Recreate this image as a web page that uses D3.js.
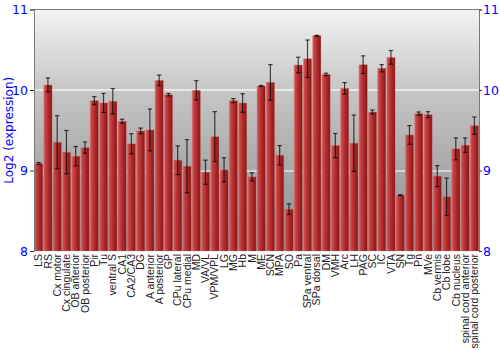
<!DOCTYPE html>
<html><head><meta charset="utf-8">
<script src="https://cdn.jsdelivr.net/npm/d3@7"></script>
<style>body{margin:0;background:#fff}svg{display:block}</style>
</head><body>
<script>
const categories = ["LS","RS","Cx motor","Cx cingulate","OB anterior","OB posterior","Pir","Tu","ventral S","CA1","CA2/CA3","DG","A anterior","A posterior","GP","CPu lateral","CPu medial","MD","VA/VL","VPM/VPL","LG","MG","Hb","M","ME","SCN","MPA","SO","Pa","SPa ventral","SPa dorsal","DM","VMH","Arc","LH","PAG","SC","IC","VTA","SN","Tg","Pn","MVe","Cb vermis","Cb lobe","Cb nucleus","spinal cord anterior","spinal cord posterior"];
const values = [9.087,10.062,9.351,9.227,9.178,9.285,9.868,9.839,9.860,9.612,9.331,9.492,9.504,10.12,9.942,9.128,9.054,9.996,8.979,9.421,9.008,9.868,9.839,8.921,10.05,10.095,9.19,8.52,10.31,10.388,10.674,10.194,9.31,10.02,9.339,10.314,9.727,10.27,10.405,8.694,9.442,9.707,9.694,8.93,8.674,9.269,9.314,9.558];
const errors = [0.012,0.087,0.33,0.27,0.12,0.07,0.05,0.118,0.157,0.025,0.126,0.035,0.26,0.066,0.015,0.178,0.33,0.12,0.15,0.31,0.15,0.025,0.115,0.05,0.007,0.22,0.12,0.066,0.097,0.233,0.005,0.015,0.15,0.072,0.35,0.11,0.025,0.045,0.085,0.005,0.116,0.02,0.037,0.13,0.233,0.136,0.09,0.107];
const yTicks = [8,9,10,11];

const W = 500, H = 350;
const m = {left:34, right:21, top:9.5, bottom:99};
const svg = d3.select("body").append("svg").attr("width",W).attr("height",H);
const defs = svg.append("defs");
const bg = defs.append("linearGradient").attr("id","bg").attr("x1",0).attr("y1",0).attr("x2",0).attr("y2",1);
[["0%","#f3f3f3"],["33%","#c6c6c6"],["67%","#a8a8a8"],["100%","#8c8c8c"]].forEach(s=>bg.append("stop").attr("offset",s[0]).attr("stop-color",s[1]));
const bg2 = defs.append("linearGradient").attr("id","bar").attr("x1",0).attr("y1",0).attr("x2",1).attr("y2",0);
[["0%","#d66a6a"],["18%","#c84646"],["55%","#b02a2a"],["100%","#841818"]].forEach(s=>bg2.append("stop").attr("offset",s[0]).attr("stop-color",s[1]));

const x = d3.scaleBand().domain(categories).range([m.left, W-m.right]).paddingInner(0.1).paddingOuter(0.05);
const y = d3.scaleLinear().domain([8,11]).range([H-m.bottom, m.top]);

svg.append("rect").attr("x",m.left).attr("y",m.top).attr("width",W-m.left-m.right).attr("height",H-m.bottom-m.top).attr("fill","url(#bg)");

// gridlines
svg.append("line").attr("x1",m.left).attr("x2",W-m.right).attr("y1",y(10)).attr("y2",y(10)).attr("stroke","#e8e8e8").attr("stroke-width",2);
svg.append("line").attr("x1",m.left).attr("x2",W-m.right).attr("y1",y(9)+0.5).attr("y2",y(9)+0.5).attr("stroke","#ffffff").attr("stroke-width",1);

// bars
svg.append("g").selectAll("rect").data(categories).join("rect")
  .attr("x",d=>x(d)).attr("width",x.bandwidth())
  .attr("y",(d,i)=>y(values[i])).attr("height",(d,i)=>y(8)-y(values[i]))
  .attr("fill","url(#bar)").attr("stroke","rgba(230,120,120,0.5)").attr("stroke-width",0.6);

// error bars
const eg = svg.append("g").attr("stroke","#000").attr("stroke-opacity",0.7).attr("stroke-width",1.2);
categories.forEach((c,i)=>{
  const cx = x(c)+x.bandwidth()/2;
  const y1 = y(values[i]+errors[i]), y2 = y(values[i]-errors[i]);
  eg.append("line").attr("x1",cx).attr("x2",cx).attr("y1",y1).attr("y2",y2);
  eg.append("line").attr("x1",cx-2.2).attr("x2",cx+2.2).attr("y1",y1).attr("y2",y1);
  eg.append("line").attr("x1",cx-2.2).attr("x2",cx+2.2).attr("y1",y2).attr("y2",y2);
});

// frame
svg.append("line").attr("x1",m.left).attr("x2",W-m.right).attr("y1",m.top).attr("y2",m.top).attr("stroke","#7a7a7a").attr("stroke-width",1);

// axes
const fmt = d3.format("d");
const la = svg.append("g").attr("transform",`translate(${m.left},0)`)
  .call(d3.axisLeft(y).tickValues(yTicks).tickFormat(fmt).tickSize(4).tickPadding(2));
const ra = svg.append("g").attr("transform",`translate(${W-m.right},0)`)
  .call(d3.axisRight(y).tickValues(yTicks).tickFormat(fmt).tickSize(3).tickPadding(1));
[la,ra].forEach(a=>{
  a.select(".domain").attr("stroke","#7a7a7a");
  a.selectAll(".tick line").attr("stroke","#333");
  a.selectAll("text").attr("fill","#0000ff").style("font-family","'DejaVu Sans', sans-serif").style("font-size","12.5px");
});

// x labels
const xa = svg.append("g").attr("transform",`translate(0,${H-m.bottom})`)
  .call(d3.axisBottom(x).tickSize(0).tickPadding(0));
xa.select(".domain").remove();
xa.selectAll("text").attr("transform","rotate(-90)").attr("text-anchor","end")
  .attr("x",-3).attr("y",0).attr("dy","0.35em")
  .attr("fill","#222").style("font-family","'Liberation Sans', Arial, sans-serif").style("font-size","10.5px");

// y label
svg.append("text").attr("transform",`translate(9,${(m.top+H-m.bottom)/2}) rotate(-90)`)
  .attr("text-anchor","middle").attr("dy","0.35em").attr("fill","#0000ff")
  .style("font-family","'DejaVu Sans', sans-serif").style("font-size","12px")
  .text("Log2 (expression)");
</script>
</body></html>
